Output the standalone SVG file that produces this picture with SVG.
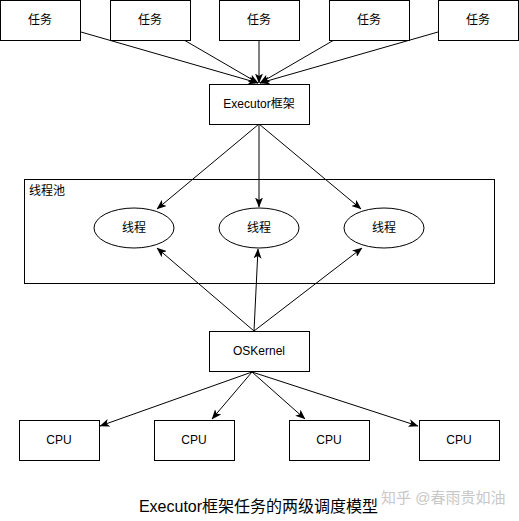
<svg xmlns="http://www.w3.org/2000/svg" width="519" height="521" viewBox="0 0 519 521">
<defs>
<style>
.box{fill:#fff;stroke:#000;stroke-width:1}
.t{font-family:"Liberation Sans","Noto Sans CJK SC",sans-serif;font-size:12px;fill:#000;text-anchor:middle;dominant-baseline:central}
.c{fill:none;stroke:#000;stroke-width:1;marker-end:url(#ah)}
</style>
<marker id="ah" viewBox="0 0 10 8" refX="9.5" refY="4" markerWidth="10" markerHeight="8" markerUnits="userSpaceOnUse" orient="auto">
<path d="M0,0 L10,4 L0,8 L2.5,4 Z" fill="#000"/>
</marker>
</defs>
<rect width="519" height="521" fill="#fff"/>
<g id="connectors">
<line class="c" x1="81" y1="32" x2="258" y2="83"/>
<line class="c" x1="184" y1="40" x2="258" y2="83"/>
<line class="c" x1="259" y1="40" x2="259" y2="83"/>
<line class="c" x1="334" y1="40" x2="260" y2="83"/>
<line class="c" x1="438" y1="32" x2="260" y2="83"/>
<line class="c" x1="259" y1="124" x2="157" y2="209"/>
<line class="c" x1="259" y1="124" x2="259" y2="207"/>
<line class="c" x1="259" y1="124" x2="361" y2="209"/>
<line class="c" x1="254" y1="331" x2="157" y2="248"/>
<line class="c" x1="254" y1="331" x2="258" y2="249"/>
<line class="c" x1="254" y1="331" x2="362" y2="248"/>
<line class="c" x1="252" y1="372" x2="100" y2="426"/>
<line class="c" x1="252" y1="372" x2="212" y2="419"/>
<line class="c" x1="252" y1="372" x2="305" y2="419"/>
<line class="c" x1="252" y1="372" x2="418" y2="426"/>
</g>
<g id="task1"><rect class="box" x="0.5" y="0.5" width="80" height="40"/><text class="t" x="40" y="20">任务</text></g>
<g id="task2"><rect class="box" x="110.5" y="0.5" width="80" height="40"/><text class="t" x="150" y="20">任务</text></g>
<g id="task3"><rect class="box" x="219.5" y="0.5" width="80" height="40"/><text class="t" x="259" y="20">任务</text></g>
<g id="task4"><rect class="box" x="329.5" y="0.5" width="80" height="40"/><text class="t" x="369" y="20">任务</text></g>
<g id="task5"><rect class="box" x="438.5" y="0.5" width="80" height="40"/><text class="t" x="478" y="20">任务</text></g>
<g id="executor"><rect class="box" x="209.5" y="84.5" width="100" height="40"/><text class="t" x="259" y="104">Executor框架</text></g>
<g id="threadpool"><rect class="box" x="24.5" y="179.5" width="470" height="104" style="fill:none"/><text class="t" x="29" y="191" style="text-anchor:start">线程池</text></g>
<g id="thread1"><ellipse class="box" cx="134" cy="228" rx="40" ry="20"/><text class="t" x="134" y="228">线程</text></g>
<g id="thread2"><ellipse class="box" cx="259" cy="228" rx="40" ry="20"/><text class="t" x="259" y="228">线程</text></g>
<g id="thread3"><ellipse class="box" cx="384" cy="228" rx="40" ry="20"/><text class="t" x="384" y="228">线程</text></g>
<g id="oskernel"><rect class="box" x="209.5" y="331.5" width="100" height="40"/><text class="t" x="259" y="351">OSKernel</text></g>
<g id="cpu1"><rect class="box" x="19.5" y="420.5" width="80" height="40"/><text class="t" x="59" y="440">CPU</text></g>
<g id="cpu2"><rect class="box" x="154.5" y="420.5" width="80" height="40"/><text class="t" x="194" y="440">CPU</text></g>
<g id="cpu3"><rect class="box" x="289.5" y="420.5" width="80" height="40"/><text class="t" x="329" y="440">CPU</text></g>
<g id="cpu4"><rect class="box" x="419.5" y="420.5" width="80" height="40"/><text class="t" x="459" y="440">CPU</text></g>
<text x="258.5" y="512" style="font-family:'Liberation Sans','Noto Sans CJK SC',sans-serif;font-size:16px;fill:#000;text-anchor:middle">Executor框架任务的两级调度模型</text>
<text x="381" y="503" style="font-family:'Liberation Sans','Noto Sans CJK SC',sans-serif;font-size:15px;fill:#c8c8c8">知乎 @春雨贵如油</text>
</svg>
